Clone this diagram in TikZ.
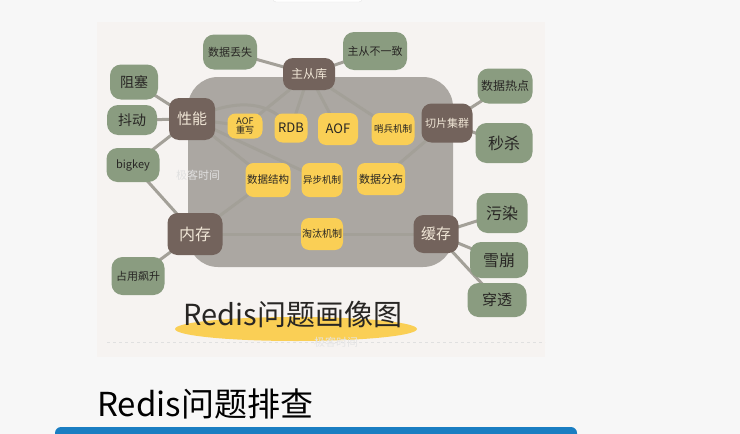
\documentclass[tikz,border=0pt]{standalone}
\usepackage{fontspec}
\setmainfont{Noto Sans CJK SC}
\definecolor{PageColor}{RGB}{247,247,247}
\definecolor{PaperColor}{RGB}{246,243,241}
\definecolor{BlobColor}{RGB}{171,167,162}
\definecolor{HubColor}{RGB}{115,99,92}
\definecolor{HubText}{RGB}{240,230,214}
\definecolor{LeafColor}{RGB}{138,156,128}
\definecolor{TopicColor}{RGB}{250,207,85}
\definecolor{LinkColor}{RGB}{163,160,152}
\definecolor{InkColor}{RGB}{40,38,36}
\definecolor{BarColor}{RGB}{26,126,194}
\usetikzlibrary{positioning, backgrounds}
\newcommand{\fsz}[1]{\fontsize{#1}{#1}\selectfont}
\tikzstyle{hub} = [rectangle, rounded corners=10pt, fill=HubColor, text=HubText, inner sep=1pt, align=center]
\tikzstyle{leaf} = [rectangle, rounded corners=11pt, fill=LeafColor, text=InkColor, inner sep=1pt, align=center]
\tikzstyle{topic} = [rectangle, rounded corners=8pt, fill=TopicColor, text=InkColor, inner sep=1pt, align=center]
\tikzstyle{link} = [LinkColor, line width=3pt, line cap=round]

\begin{document}
\begin{tikzpicture}[x=1pt, y=-1pt]
            \useasboundingbox (0,0) rectangle (740,434);

            % page and picture area
            \begin{scope}[on background layer]
                    \fill[PageColor] (0,0) rectangle (740,434);
                    \draw[black!10, fill=white, rounded corners=3pt] (273,-6) rectangle (362,2);
                    \fill[PaperColor] (97,22) rectangle (545,357);
                    \fill[BlobColor, rounded corners=30pt] (188,77) rectangle (453,267);
                    \draw[black!12, dashed] (107,342) -- (545,342);
                \end{scope}

            % Hubs
            \node[hub, minimum width=52pt, minimum height=32pt, font=\fsz{12}] (master) at (309,74) {主从库};
            \node[hub, minimum width=46pt, minimum height=42pt, font=\fsz{15}] (perf) at (192,119) {性能};
            \node[hub, minimum width=51pt, minimum height=39pt, font=\fsz{11}] (shard) at (447,123) {切片集群};
            \node[hub, minimum width=55pt, minimum height=42pt, font=\fsz{16}] (memory) at (195,234) {内存};
            \node[hub, minimum width=45pt, minimum height=38pt, font=\fsz{15}] (cache) at (436,234) {缓存};

            % Problems
            \node[leaf, minimum width=54pt, minimum height=35pt, font=\fsz{11}] (loss) at (230,52) {数据丢失};
            \node[leaf, minimum width=64pt, minimum height=38pt, font=\fsz{11}] (incons) at (375,51) {主从不一致};
            \node[leaf, minimum width=48pt, minimum height=35pt, font=\fsz{14}] (block) at (134,82) {阻塞};
            \node[leaf, minimum width=50pt, minimum height=30pt, font=\fsz{14}] (jitter) at (132,120) {抖动};
            \node[leaf, minimum width=53pt, minimum height=34pt, font=\fsz{11}] (bigkey) at (133,165) {bigkey};
            \node[leaf, minimum width=53pt, minimum height=38pt, font=\fsz{11}] (surge) at (138,276) {占用飙升};
            \node[leaf, minimum width=55pt, minimum height=35pt, font=\fsz{12}] (hot) at (505,86) {数据热点};
            \node[leaf, minimum width=57pt, minimum height=40pt, font=\fsz{16}] (flash) at (504,143) {秒杀};
            \node[leaf, minimum width=51pt, minimum height=40pt, font=\fsz{16}] (pollute) at (502,213) {污染};
            \node[leaf, minimum width=58pt, minimum height=36pt, font=\fsz{16}] (avalanche) at (499,260) {雪崩};
            \node[leaf, minimum width=59pt, minimum height=34pt, font=\fsz{15}] (penetrate) at (497,300) {穿透};

            % Mechanisms
            \node[topic, minimum width=35pt, minimum height=25pt, font=\fsz{9}] (aofrw) at (245,126) {AOF\\重写};
            \node[topic, minimum width=33pt, minimum height=29pt, font=\fsz{13}] (rdb) at (291,128) {RDB};
            \node[topic, minimum width=40pt, minimum height=32pt, font=\fsz{13}] (aof) at (338,129) {AOF};
            \node[topic, minimum width=43pt, minimum height=32pt, font=\fsz{9.5}] (sentinel) at (393,129) {哨兵机制};
            \node[topic, minimum width=45pt, minimum height=34pt, font=\fsz{10.5}] (struct) at (268,180) {数据结构};
            \node[topic, minimum width=41pt, minimum height=34pt, font=\fsz{9.5}] (async) at (322,180) {异步机制};
            \node[topic, minimum width=48pt, minimum height=32pt, font=\fsz{11}] (dist) at (381,179) {数据分布};
            \node[topic, minimum width=41pt, minimum height=32pt, font=\fsz{10}] (evict) at (322,234) {淘汰机制};

            % Links
            \begin{scope}[on background layer]
                    \foreach \a/\b in {master/loss, master/incons, master/aofrw, master/rdb, master/aof, master/sentinel,
                            perf/block, perf/jitter, perf/bigkey, perf/aofrw, perf/struct, perf/async,
                            shard/hot, shard/flash, shard/dist,
                            memory/bigkey, memory/surge, memory/struct, memory/evict,
                            cache/evict, cache/pollute, cache/avalanche, cache/penetrate}
                        \draw[link] (\a.center) -- (\b.center);
                    \draw[link] (perf.center) .. controls (235,98) and (270,100) .. (rdb.center);
                \end{scope}

            % Title
            \fill[TopicColor] (296,329) ellipse (121 and 12);
            \node[text=InkColor, font=\fsz{29}] (title) at (293,314) {Redis问题画像图};

            % Watermarks
            \node[text=black!12, font=\fsz{11}] (mark1) at (198,175) {极客时间};
            \node[text=black!10, font=\fsz{11}] (mark2) at (336,342) {极客时间};

            % Heading
            \node[anchor=base west, inner sep=0pt, font=\fsz{33}] (heading) at (97,416) {Redis问题排查};
            \fill[BarColor, rounded corners=6pt] (55,427) rectangle (577,446);
        \end{tikzpicture}
\end{document}
